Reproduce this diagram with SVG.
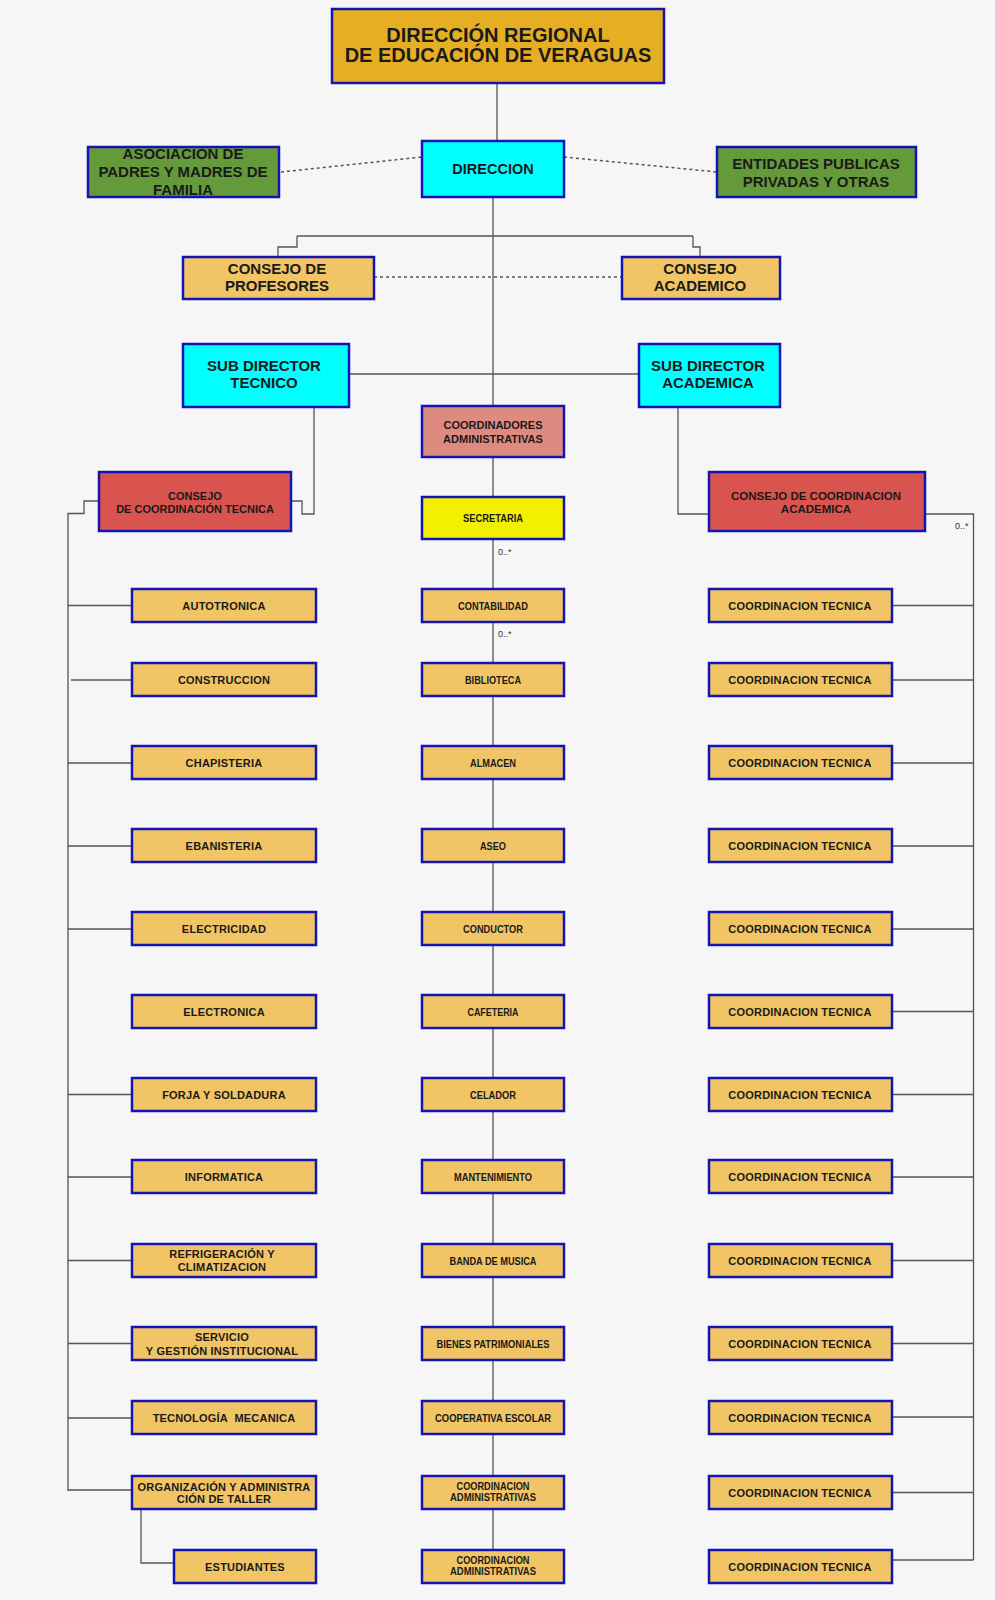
<svg xmlns="http://www.w3.org/2000/svg" width="995" height="1600" viewBox="0 0 995 1600">
<style>
.bx{stroke:#1414B4;stroke-width:2.5}
.g{fill:#F1C566}
.t{font-family:"Liberation Sans",Arial,sans-serif;font-weight:bold;fill:#1a1a1a;text-anchor:middle}
.s11{font-size:11px;letter-spacing:0.2px}
.s95{font-size:10.5px}
.s15{font-size:15px}
.ln{stroke:#555;stroke-width:1.3;fill:none}
.dt{stroke:#555;stroke-width:1.5;stroke-dasharray:3 3;fill:none}
.lb{font-family:"Liberation Sans",Arial,sans-serif;font-size:9px;fill:#333}
</style>
<rect width="995" height="1600" fill="#F6F6F6"/>
<g id="connectors">
<path class="ln" d="M497,83 V141"/>
<path class="ln" d="M493,197 V1550"/>
<path class="ln" d="M297,236 H693 M297,236 V247 H278 V257 M693,236 V247 H700 V257"/>
<path class="dt" d="M281,172 L422,157"/>
<path class="dt" d="M564,157 L717,172"/>
<path class="dt" d="M374,277 H622"/>
<path class="ln" d="M349,374 H639"/>
<path class="ln" d="M314,406 V514 H302 V501 H291"/>
<path class="ln" d="M678,406 V514 H709"/>
<path class="ln" d="M99,501 H84 V513.5 H68 V1491"/>
<path class="ln" d="M68,605.5 H132 M71,680 H132 M68,763 H132 M68,846 H132 M68,929 H132 M68,1094.5 H132 M68,1177 H132 M68,1260.5 H132 M68,1343.5 H132 M68,1418 H132 M68,1490 H132"/>
<path class="ln" d="M141,1509 V1563 H174"/>
<path class="ln" d="M925,514 H973.5 V1560"/>
<path class="ln" d="M892,605.5 H973.5 M892,680 H973.5 M892,763 H973.5 M892,846 H973.5 M892,929 H973.5 M892,1011.5 H973.5 M892,1094.5 H973.5 M892,1177 H973.5 M892,1260.5 H973.5 M892,1343.5 H973.5 M892,1417 H973.5 M892,1492.5 H973.5 M892,1560 H973.5"/>
<text class="lb" x="498" y="555">0..*</text>
<text class="lb" x="498" y="637">0..*</text>
<text class="lb" x="955" y="529">0..*</text>
</g>
<g id="n-regional"><rect class="bx" x="332" y="9" width="332" height="74" fill="#E6AE22"/><text class="t" style="font-size:20px" x="498" y="42">DIRECCIÓN REGIONAL</text><text class="t" style="font-size:20px" x="498" y="62">DE EDUCACIÓN DE VERAGUAS</text></g>
<g id="n-direccion"><rect class="bx" x="422" y="141" width="142" height="56" fill="#00FFFF"/><text class="t" style="font-size:14.5px" x="493" y="174">DIRECCION</text></g>
<g id="n-asociacion"><rect class="bx" x="88" y="147" width="191" height="50" fill="#659A3B"/><text class="t s15" x="183" y="159">ASOCIACION DE</text><text class="t s15" x="183" y="177">PADRES Y MADRES DE</text><text class="t s15" x="183" y="195">FAMILIA</text></g>
<g id="n-entidades"><rect class="bx" x="717" y="147" width="199" height="50" fill="#659A3B"/><text class="t s15" x="816" y="168.5">ENTIDADES PUBLICAS</text><text class="t s15" x="816" y="186.5">PRIVADAS Y OTRAS</text></g>
<g id="n-profesores"><rect class="bx g" x="183" y="257" width="191" height="42"/><text class="t s15" x="277" y="273.5">CONSEJO DE</text><text class="t s15" x="277" y="291">PROFESORES</text></g>
<g id="n-academico"><rect class="bx g" x="622" y="257" width="158" height="42"/><text class="t s15" x="700" y="273.5">CONSEJO</text><text class="t s15" x="700" y="291">ACADEMICO</text></g>
<g id="n-subtec"><rect class="bx" x="183" y="344" width="166" height="63" fill="#00FFFF"/><text class="t s15" x="264" y="371">SUB DIRECTOR</text><text class="t s15" x="264" y="388">TECNICO</text></g>
<g id="n-subacad"><rect class="bx" x="639" y="344" width="141" height="63" fill="#00FFFF"/><text class="t s15" x="708" y="371">SUB DIRECTOR</text><text class="t s15" x="708" y="388">ACADEMICA</text></g>
<g id="n-coordadm"><rect class="bx" x="422" y="406" width="142" height="51" fill="#DF8A80"/><text class="t" style="font-size:11px" x="493" y="429">COORDINADORES</text><text class="t" style="font-size:11px" x="493" y="442.5">ADMINISTRATIVAS</text></g>
<g id="n-secretaria"><rect class="bx" x="422" y="497" width="142" height="42" fill="#F2F000"/><text class="t s95" x="493" y="521.5" textLength="60" lengthAdjust="spacingAndGlyphs">SECRETARIA</text></g>
<g id="n-cct"><rect class="bx" x="99" y="472" width="192" height="59" fill="#D9544E"/><text class="t" style="font-size:11px" x="195" y="500">CONSEJO</text><text class="t" style="font-size:11px" x="195" y="513">DE COORDINACIÓN TECNICA</text></g>
<g id="n-cca"><rect class="bx" x="709" y="472" width="216" height="59" fill="#D9544E"/><text class="t" style="font-size:11.5px" x="816" y="500">CONSEJO DE COORDINACION</text><text class="t" style="font-size:11.5px" x="816" y="513">ACADEMICA</text></g>

<g id="n-autotronica"><rect class="bx g" x="132" y="589" width="184" height="33"/><text class="t s11" x="224" y="609.5">AUTOTRONICA</text></g>
<g id="n-construccion"><rect class="bx g" x="132" y="663" width="184" height="33"/><text class="t s11" x="224" y="683.5">CONSTRUCCION</text></g>
<g id="n-chapisteria"><rect class="bx g" x="132" y="746" width="184" height="33"/><text class="t s11" x="224" y="766.5">CHAPISTERIA</text></g>
<g id="n-ebanisteria"><rect class="bx g" x="132" y="829" width="184" height="33"/><text class="t s11" x="224" y="849.5">EBANISTERIA</text></g>
<g id="n-electricidad"><rect class="bx g" x="132" y="912" width="184" height="33"/><text class="t s11" x="224" y="932.5">ELECTRICIDAD</text></g>
<g id="n-electronica"><rect class="bx g" x="132" y="995" width="184" height="33"/><text class="t s11" x="224" y="1015.5">ELECTRONICA</text></g>
<g id="n-forja"><rect class="bx g" x="132" y="1078" width="184" height="33"/><text class="t s11" x="224" y="1098.5">FORJA Y SOLDADURA</text></g>
<g id="n-informatica"><rect class="bx g" x="132" y="1160" width="184" height="33"/><text class="t s11" x="224" y="1180.5">INFORMATICA</text></g>
<g id="n-refrig"><rect class="bx g" x="132" y="1244" width="184" height="33"/><text class="t s11" x="222" y="1258">REFRIGERACIÓN Y</text><text class="t s11" x="222" y="1271">CLIMATIZACION</text></g>
<g id="n-servicio"><rect class="bx g" x="132" y="1327" width="184" height="33"/><text class="t s11" x="222" y="1341">SERVICIO</text><text class="t s11" x="222" y="1354.5">Y GESTIÓN INSTITUCIONAL</text></g>
<g id="n-tecnologia"><rect class="bx g" x="132" y="1401" width="184" height="33"/><text class="t s11" x="224" y="1421.5">TECNOLOGÍA&#160; MECANICA</text></g>
<g id="n-organizacion"><rect class="bx g" x="132" y="1476" width="184" height="33"/><text class="t s11" x="224" y="1490.5">ORGANIZACIÓN Y ADMINISTRA</text><text class="t s11" x="224" y="1503">CIÓN DE TALLER</text></g>
<g id="n-estudiantes"><rect class="bx g" x="174" y="1550" width="142" height="33"/><text class="t s11" x="245" y="1570.5">ESTUDIANTES</text></g>

<g id="n-contabilidad"><rect class="bx g" x="422" y="589" width="142" height="33"/><text class="t s95" x="493" y="609.5" textLength="70" lengthAdjust="spacingAndGlyphs">CONTABILIDAD</text></g>
<g id="n-biblioteca"><rect class="bx g" x="422" y="663" width="142" height="33"/><text class="t s95" x="493" y="683.5" textLength="56" lengthAdjust="spacingAndGlyphs">BIBLIOTECA</text></g>
<g id="n-almacen"><rect class="bx g" x="422" y="746" width="142" height="33"/><text class="t s95" x="493" y="766.5" textLength="46" lengthAdjust="spacingAndGlyphs">ALMACEN</text></g>
<g id="n-aseo"><rect class="bx g" x="422" y="829" width="142" height="33"/><text class="t s95" x="493" y="849.5" textLength="26" lengthAdjust="spacingAndGlyphs">ASEO</text></g>
<g id="n-conductor"><rect class="bx g" x="422" y="912" width="142" height="33"/><text class="t s95" x="493" y="932.5" textLength="60" lengthAdjust="spacingAndGlyphs">CONDUCTOR</text></g>
<g id="n-cafeteria"><rect class="bx g" x="422" y="995" width="142" height="33"/><text class="t s95" x="493" y="1015.5" textLength="51" lengthAdjust="spacingAndGlyphs">CAFETERIA</text></g>
<g id="n-celador"><rect class="bx g" x="422" y="1078" width="142" height="33"/><text class="t s95" x="493" y="1098.5" textLength="46" lengthAdjust="spacingAndGlyphs">CELADOR</text></g>
<g id="n-mantenimiento"><rect class="bx g" x="422" y="1160" width="142" height="33"/><text class="t s95" x="493" y="1180.5" textLength="78" lengthAdjust="spacingAndGlyphs">MANTENIMIENTO</text></g>
<g id="n-banda"><rect class="bx g" x="422" y="1244" width="142" height="33"/><text class="t s95" x="493" y="1264.5" textLength="87" lengthAdjust="spacingAndGlyphs">BANDA DE MUSICA</text></g>
<g id="n-bienes"><rect class="bx g" x="422" y="1327" width="142" height="33"/><text class="t s95" x="493" y="1347.5" textLength="113" lengthAdjust="spacingAndGlyphs">BIENES PATRIMONIALES</text></g>
<g id="n-cooperativa"><rect class="bx g" x="422" y="1401" width="142" height="33"/><text class="t s95" x="493" y="1421.5" textLength="116" lengthAdjust="spacingAndGlyphs">COOPERATIVA ESCOLAR</text></g>
<g id="n-coordadm1"><rect class="bx g" x="422" y="1476" width="142" height="33"/><text class="t" style="font-size:10px" x="493" y="1489.5" textLength="73" lengthAdjust="spacingAndGlyphs">COORDINACION</text><text class="t" style="font-size:10px" x="493" y="1501" textLength="86" lengthAdjust="spacingAndGlyphs">ADMINISTRATIVAS</text></g>
<g id="n-coordadm2"><rect class="bx g" x="422" y="1550" width="142" height="33"/><text class="t" style="font-size:10px" x="493" y="1563.5" textLength="73" lengthAdjust="spacingAndGlyphs">COORDINACION</text><text class="t" style="font-size:10px" x="493" y="1575" textLength="86" lengthAdjust="spacingAndGlyphs">ADMINISTRATIVAS</text></g>

<g id="n-ct1"><rect class="bx g" x="709" y="589" width="183" height="33"/><text class="t s11" x="800" y="609.5">COORDINACION TECNICA</text></g>
<g id="n-ct2"><rect class="bx g" x="709" y="663" width="183" height="33"/><text class="t s11" x="800" y="683.5">COORDINACION TECNICA</text></g>
<g id="n-ct3"><rect class="bx g" x="709" y="746" width="183" height="33"/><text class="t s11" x="800" y="766.5">COORDINACION TECNICA</text></g>
<g id="n-ct4"><rect class="bx g" x="709" y="829" width="183" height="33"/><text class="t s11" x="800" y="849.5">COORDINACION TECNICA</text></g>
<g id="n-ct5"><rect class="bx g" x="709" y="912" width="183" height="33"/><text class="t s11" x="800" y="932.5">COORDINACION TECNICA</text></g>
<g id="n-ct6"><rect class="bx g" x="709" y="995" width="183" height="33"/><text class="t s11" x="800" y="1015.5">COORDINACION TECNICA</text></g>
<g id="n-ct7"><rect class="bx g" x="709" y="1078" width="183" height="33"/><text class="t s11" x="800" y="1098.5">COORDINACION TECNICA</text></g>
<g id="n-ct8"><rect class="bx g" x="709" y="1160" width="183" height="33"/><text class="t s11" x="800" y="1180.5">COORDINACION TECNICA</text></g>
<g id="n-ct9"><rect class="bx g" x="709" y="1244" width="183" height="33"/><text class="t s11" x="800" y="1264.5">COORDINACION TECNICA</text></g>
<g id="n-ct10"><rect class="bx g" x="709" y="1327" width="183" height="33"/><text class="t s11" x="800" y="1347.5">COORDINACION TECNICA</text></g>
<g id="n-ct11"><rect class="bx g" x="709" y="1401" width="183" height="33"/><text class="t s11" x="800" y="1421.5">COORDINACION TECNICA</text></g>
<g id="n-ct12"><rect class="bx g" x="709" y="1476" width="183" height="33"/><text class="t s11" x="800" y="1496.5">COORDINACION TECNICA</text></g>
<g id="n-ct13"><rect class="bx g" x="709" y="1550" width="183" height="33"/><text class="t s11" x="800" y="1570.5">COORDINACION TECNICA</text></g>
</svg>
